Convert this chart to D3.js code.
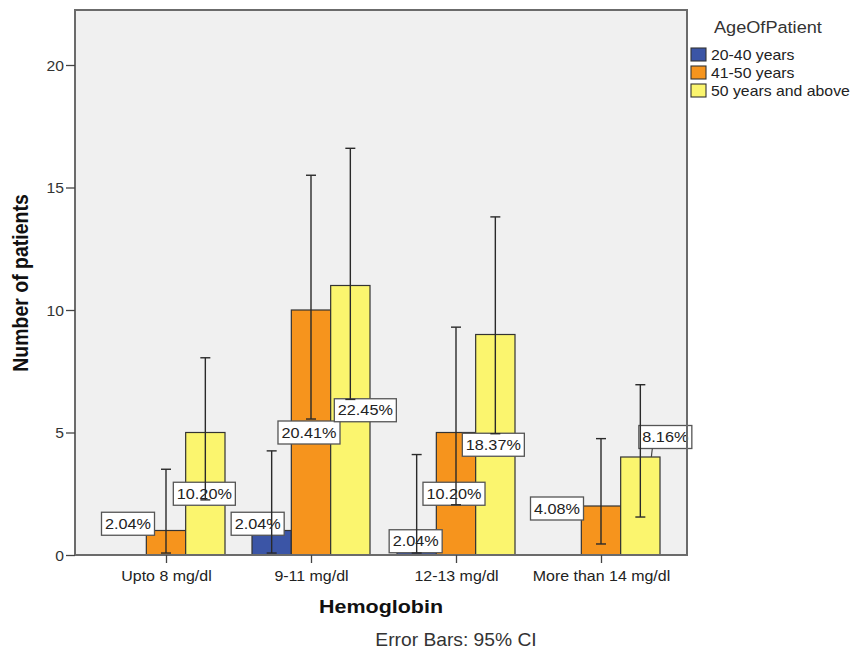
<!DOCTYPE html>
<html>
<head>
<meta charset="utf-8">
<script src="https://cdn.jsdelivr.net/npm/d3@7"></script>
<style>
  html, body { margin: 0; padding: 0; background: #ffffff; }
  svg { display: block; }
  text { font-family: Arial, "Liberation Sans", sans-serif; }
</style>
</head>
<body>
<svg id="chart" width="857" height="656"></svg>
<script>
// ---------------- DATA ----------------
const categories = ["Upto 8 mg/dl", "9-11 mg/dl", "12-13 mg/dl", "More than 14 mg/dl"];
const seriesNames = ["20-40 years", "41-50 years", "50 years and above"];
const counts20to40 = [0, 1, 1, 0];
const counts41to50 = [1, 10, 5, 2];
const counts50plus = [5, 11, 9, 4];
// 95% CI bounds (null = no bar)
const ciLow20to40  = [null, 0.08, 0.08, null];
const ciHigh20to40 = [null, 4.25, 4.1, null];
const ciLow41to50  = [0.08, 5.55, 2.05, 0.45];
const ciHigh41to50 = [3.5, 15.5, 9.3, 4.75];
const ciLow50plus  = [2.25, 6.35, 4.95, 1.55];
const ciHigh50plus = [8.05, 16.6, 13.8, 6.95];
const yTicks = [0, 5, 10, 15, 20];
const legendTitle = "AgeOfPatient";
const xTitle = "Hemoglobin";
const yTitle = "Number of patients";
const footnote = "Error Bars: 95% CI";

// ---------------- LAYOUT / STYLE ----------------
const colors = ["#3b55a6", "#f6941d", "#fbf56e"];
const frame = { left: 75, right: 687, top: 10, bottom: 555 };
const SX = 1.12; // horizontal text stretch seen in the reference
// label placement nudges (px) relative to bar centre / mid-height, keyed "cat-series"
const labelNudge = {
  "0-1": [-38, -19], "0-2": [-1, 0],
  "1-0": [-14, -19], "1-1": [-2, 0], "1-2": [15, -10],
  "2-0": [-1, -1.5], "2-1": [-2, 0], "2-2": [-2, 0],
  "3-1": [-44, -22], "3-2": [25, -69, true]
};

const counts = [counts20to40, counts41to50, counts50plus];
const ciLow = [ciLow20to40, ciLow41to50, ciLow50plus];
const ciHigh = [ciHigh20to40, ciHigh41to50, ciHigh50plus];
const total = d3.sum(counts.flat());

const svg = d3.select("#chart");

const x = d3.scalePoint().domain(categories).range([166, 601]);
const x1 = d3.scaleBand().domain(seriesNames).range([-59, 59]);
const y = d3.scaleLinear().domain([0, 20]).range([555, 65]);

function stretch(sel, tx, ty, sx) {
  sel.attr("transform", `translate(${tx},${ty}) scale(${sx},1)`).attr("x", 0).attr("y", 0);
}

// plot background
svg.append("rect")
  .attr("x", frame.left).attr("y", frame.top)
  .attr("width", frame.right - frame.left).attr("height", frame.bottom - frame.top)
  .attr("fill", "#f0f0f0");

// records
const recs = [];
categories.forEach((c, ci) => {
  seriesNames.forEach((s, si) => {
    const v = counts[si][ci];
    if (v > 0) recs.push({ c, ci, s, si, v, lo: ciLow[si][ci], hi: ciHigh[si][ci] });
  });
});

// bars
svg.append("g").selectAll("rect").data(recs).join("rect")
  .attr("x", d => x(d.c) + x1(d.s))
  .attr("y", d => y(d.v))
  .attr("width", x1.bandwidth())
  .attr("height", d => y(0) - y(d.v))
  .attr("fill", d => colors[d.si])
  .attr("stroke", "#333")
  .attr("stroke-width", 1.2);

// labels
const lg = svg.append("g");
recs.forEach(d => {
  const nudge = labelNudge[d.ci + "-" + d.si] || [0, 0];
  const bx = x(d.c) + x1(d.s) + x1.bandwidth() / 2;
  const cx = bx + nudge[0];
  const cy = y(d.v / 2) + nudge[1];
  const txt = d3.format(".2f")(d.v / total * 100) + "%";
  const g = lg.append("g");
  const t = g.append("text").text(txt)
    .attr("font-size", 14.5).attr("fill", "#222").attr("text-anchor", "middle");
  stretch(t, cx, cy + 5, SX);
  const w = t.node().getComputedTextLength() * SX + 7;
  g.insert("rect", "text")
    .attr("x", cx - w / 2).attr("y", cy - 11.5)
    .attr("width", w).attr("height", 23)
    .attr("fill", "#ffffff").attr("stroke", "#555").attr("stroke-width", 1.3);
  if (nudge[2]) {
    g.append("line")
      .attr("x1", cx - 13).attr("y1", cy + 11.5)
      .attr("x2", bx + 11).attr("y2", y(d.v))
      .attr("stroke", "#444").attr("stroke-width", 1.2);
  }
});

// error bars
const eg = svg.append("g").attr("stroke", "#2a2a2a").attr("stroke-width", 1.4);
recs.forEach(d => {
  if (d.lo == null) return;
  const bx = x(d.c) + x1(d.s) + x1.bandwidth() / 2;
  eg.append("line").attr("x1", bx).attr("x2", bx).attr("y1", y(d.lo)).attr("y2", y(d.hi));
  [d.lo, d.hi].forEach(v => {
    eg.append("line").attr("x1", bx - 5).attr("x2", bx + 5).attr("y1", y(v)).attr("y2", y(v));
  });
});

// frame
svg.append("rect")
  .attr("x", frame.left).attr("y", frame.top)
  .attr("width", frame.right - frame.left).attr("height", frame.bottom - frame.top)
  .attr("fill", "none").attr("stroke", "#6b6b6b").attr("stroke-width", 2);

// y axis
const yAxis = svg.append("g").attr("transform", `translate(${frame.left},0)`)
  .call(d3.axisLeft(y).tickValues(yTicks).tickSize(9).tickFormat(d3.format("d")));
yAxis.select(".domain").remove();
yAxis.selectAll(".tick line").attr("stroke", "#444").attr("stroke-width", 1.3);
yAxis.selectAll(".tick text").each(function () {
  const t = d3.select(this);
  t.attr("font-size", 14).attr("fill", "#333").attr("text-anchor", "end").attr("dy", null);
  stretch(t, -11, 5, SX);
});

// x axis
const xAxis = svg.append("g").attr("transform", `translate(0,${frame.bottom})`)
  .call(d3.axisBottom(x).tickSize(8));
xAxis.select(".domain").remove();
xAxis.selectAll(".tick line").attr("stroke", "#444").attr("stroke-width", 1.3);
xAxis.selectAll(".tick text").each(function () {
  const t = d3.select(this);
  t.attr("font-size", 14.5).attr("fill", "#222").attr("text-anchor", "middle").attr("dy", null);
  stretch(t, 0, 26, 1.1);
});

// axis titles
const xt = svg.append("text").text(xTitle)
  .attr("font-size", 19).attr("font-weight", "bold").attr("fill", "#111").attr("text-anchor", "middle");
stretch(xt, (frame.left + frame.right) / 2, 613, 1.13);

svg.append("text").text(yTitle)
  .attr("font-size", 19.5).attr("font-weight", "bold").attr("fill", "#111").attr("text-anchor", "middle")
  .attr("transform", `translate(28,283) rotate(-90) scale(1,1.1)`);

const ft = svg.append("text").text(footnote)
  .attr("font-size", 17.5).attr("fill", "#333").attr("text-anchor", "middle");
stretch(ft, 456, 646, 1.1);

// legend
const lt = svg.append("text").text(legendTitle)
  .attr("font-size", 16.5).attr("fill", "#333");
stretch(lt, 714, 33, 1.1);
const leg = svg.append("g");
seriesNames.forEach((s, i) => {
  const yy = 48 + i * 18;
  leg.append("rect").attr("x", 691).attr("y", yy).attr("width", 15).attr("height", 13)
    .attr("fill", colors[i]).attr("stroke", "#333").attr("stroke-width", 1.1);
  const t = leg.append("text").text(s).attr("font-size", 14).attr("fill", "#222");
  stretch(t, 711, yy + 12, 1.13);
});
</script>
</body>
</html>
